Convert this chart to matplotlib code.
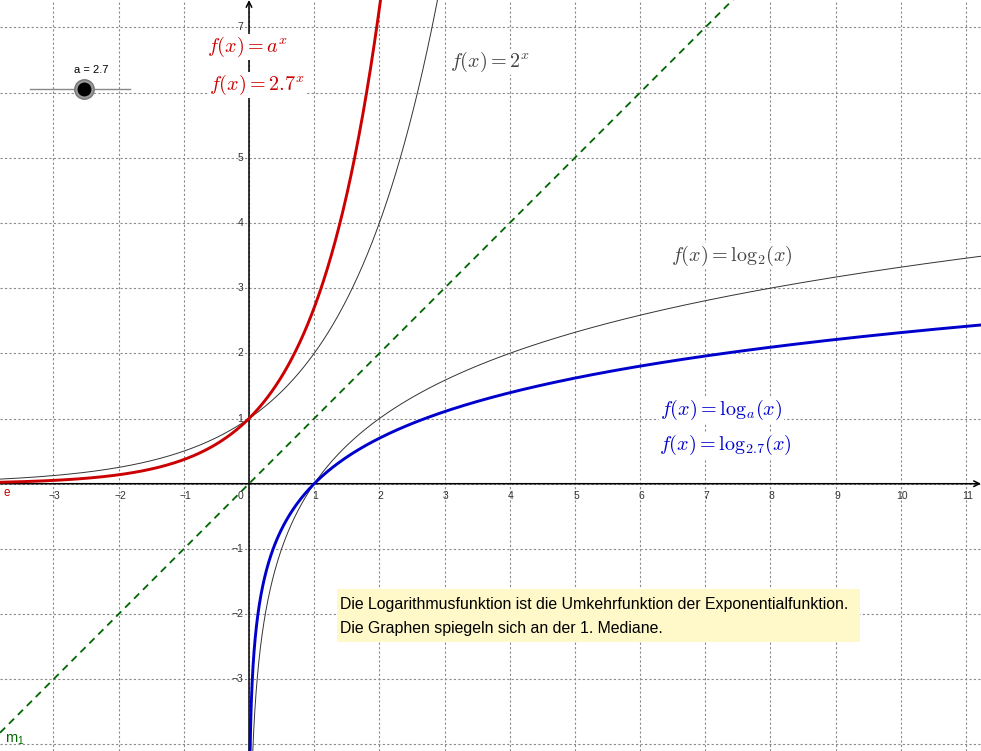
import numpy as np
import matplotlib.pyplot as plt

plt.rcParams['mathtext.fontset'] = 'cm'

# chart content
a = 2.7            # slider value
base2 = 2
x_ticks = [-3, -2, -1, 1, 2, 3, 4, 5, 6, 7, 8, 9, 10, 11]
y_ticks = [-3, -2, -1, 1, 2, 3, 4, 5, 7]   # "6" sits under the red label
note = ["Die Logarithmusfunktion ist die Umkehrfunktion der Exponentialfunktion.",
        "Die Graphen spiegeln sich an der 1. Mediane."]

xmin, xmax = -3.82, 11.23
ymin, ymax = -4.10, 7.42

fig = plt.figure(figsize=(9.81, 7.51), dpi=100)
ax = fig.add_axes([0, 0, 1, 1])
ax.set_xlim(xmin, xmax)
ax.set_ylim(ymin, ymax)
ax.set_axis_off()

# grid
for gx in range(-3, 12):
    ax.axvline(gx, color='#8a8a8a', lw=0.8, ls=(0, (2, 2)), zorder=0)
for gy in range(-4, 8):
    ax.axhline(gy, color='#8a8a8a', lw=0.8, ls=(0, (2, 2)), zorder=0)

# axes with arrows
ax.annotate('', xy=(xmax, 0), xytext=(xmin, 0),
            arrowprops=dict(arrowstyle='->', color='black', lw=1.1, shrinkA=0, shrinkB=0),
            zorder=2)
ax.annotate('', xy=(0, ymax), xytext=(0, ymin),
            arrowprops=dict(arrowstyle='->', color='black', lw=1.1, shrinkA=0, shrinkB=0),
            zorder=2)

for t in x_ticks:
    ax.annotate(str(t).replace('-', '\u2212'), (t, 0), xytext=(1, -5), textcoords='offset points',
                ha='center', va='top', fontsize=7.5, color='#333333', family='Liberation Sans')
for t in y_ticks:
    ax.annotate(str(t).replace('-', '\u2212'), (0, t), xytext=(-4, 0), textcoords='offset points',
                ha='right', va='center', fontsize=7.5, color='#333333', family='Liberation Sans')
ax.annotate('0', (0, 0), xytext=(-4, -5), textcoords='offset points',
            ha='right', va='top', fontsize=7.5, color='#333333', family='Liberation Sans')

# curves
xs = np.linspace(xmin, xmax, 2000)
xp = np.concatenate([np.geomspace(1e-4, 0.5, 800), np.linspace(0.5, xmax, 1000)])

ax.plot(xs, xs, color='#006600', lw=1.3, ls=(0, (4, 3)), zorder=3)
ax.plot(xs, base2 ** xs, color='#333333', lw=0.7, zorder=3)
ax.plot(xp, np.log(xp) / np.log(base2), color='#333333', lw=0.7, zorder=3)
ax.plot(xs, a ** xs, color='#cc0000', lw=2.1, zorder=4)
ax.plot(xp, np.log(xp) / np.log(a), color='#0000cc', lw=2.1, zorder=4)

# formula labels (pixel positions of the reference)
def px(x, y):
    return x / 981, 1 - y / 751

wbox = dict(facecolor='white', edgecolor='none', pad=1)
labels = [
    (207, 47, r'$f(x) = a^x$', '#cc0000'),
    (209, 85, r'$f(x) = 2.7^x$', '#cc0000'),
    (450, 62, r'$f(x) = 2^x$', '#444444'),
    (671, 256, r'$f(x) = \mathrm{log}_2(x)$', '#444444'),
    (660, 410, r'$f(x) = \mathrm{log}_a(x)$', '#0000cc'),
    (659, 445, r'$f(x) = \mathrm{log}_{2.7}(x)$', '#0000cc'),
]
for lx, ly, s, c in labels:
    fig.text(*px(lx, ly), s, color=c, fontsize=14.5, ha='left', va='center',
             bbox=wbox, zorder=6)

# note box
fig.patches.append(plt.Rectangle(px(337, 642), (860 - 337) / 981, (642 - 589) / 751,
                                 transform=fig.transFigure, facecolor='#fff8c8',
                                 edgecolor='none', zorder=5))
fig.text(*px(340, 604), note[0], fontsize=11.4, family='Liberation Sans', va='center', zorder=6)
fig.text(*px(340, 628), note[1], fontsize=11.4, family='Liberation Sans', va='center', zorder=6)

# slider
fig.lines.append(plt.Line2D([30 / 981, 130 / 981], [1 - 89 / 751] * 2, transform=fig.transFigure,
                            color='#888888', lw=1))
fig.lines.append(plt.Line2D([84 / 981], [1 - 89 / 751], transform=fig.transFigure, marker='o',
                            markersize=14, color='#999999', markeredgecolor='#777777'))
fig.lines.append(plt.Line2D([84 / 981], [1 - 89 / 751], transform=fig.transFigure, marker='o',
                            markersize=9, color='black'))
fig.text(*px(91, 70), 'a = 2.7', fontsize=8, ha='center', va='center', family='Liberation Sans')

# object names
fig.text(*px(4, 493), 'e', color='#cc0000', fontsize=8.5, va='center', family='Liberation Sans')
fig.text(*px(5, 740), r'$\mathregular{m_1}$', color='#006600', fontsize=10.5, va='center',
         family='Liberation Sans')

fig.savefig('out.png', dpi=100)
